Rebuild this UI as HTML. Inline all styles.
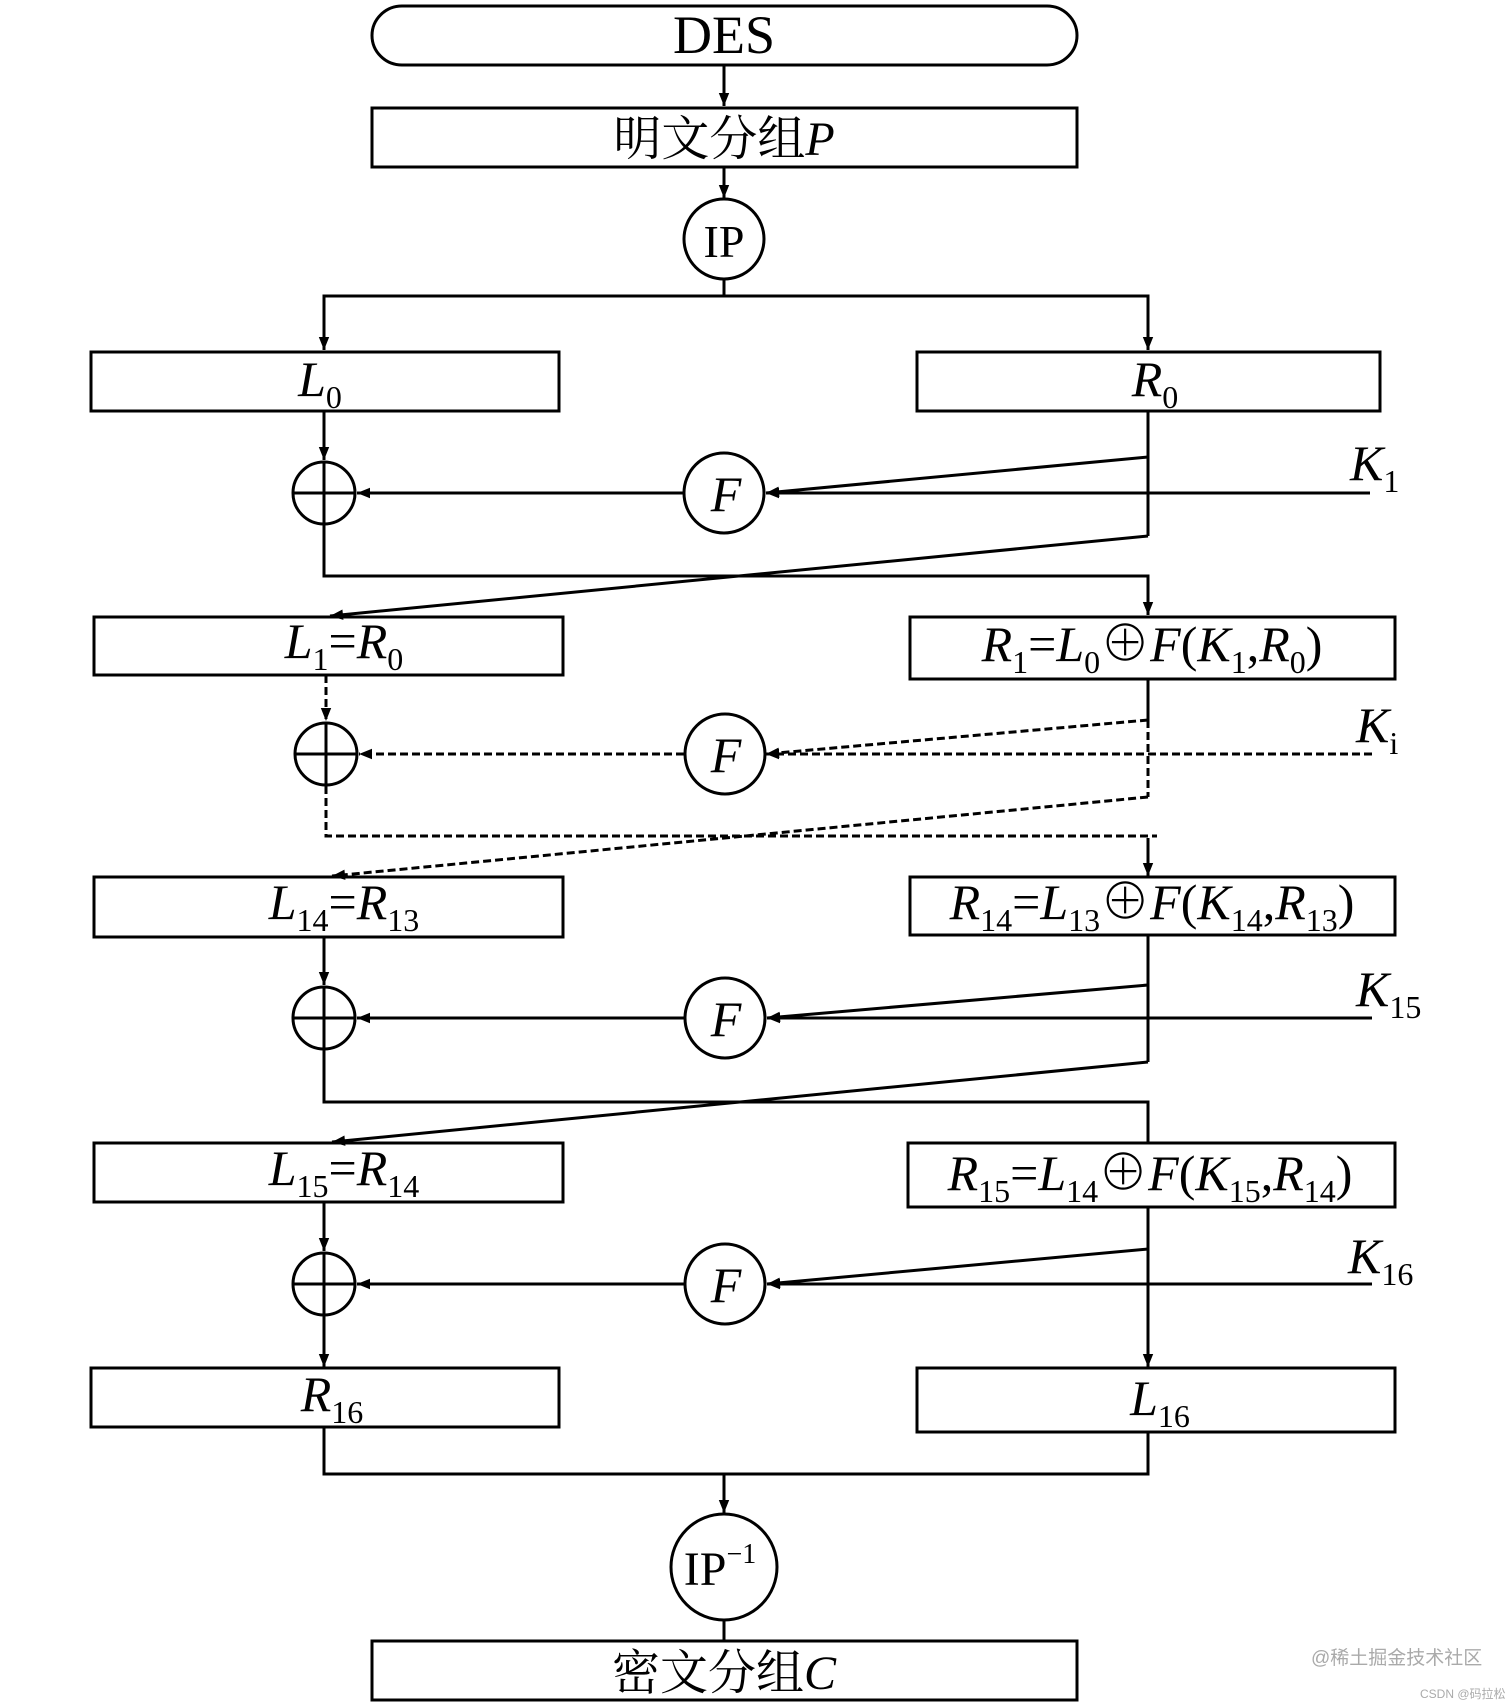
<!DOCTYPE html>
<html><head><meta charset="utf-8"><style>
html,body{margin:0;padding:0;background:#fff;}
svg{display:block;}
text{font-family:"Liberation Serif","Noto Serif CJK SC",serif;fill:#000;}
.it{font-style:italic;}
</style></head><body>
<svg width="1512" height="1706" viewBox="0 0 1512 1706" xmlns="http://www.w3.org/2000/svg">
<defs>
<marker id="b" viewBox="0 0 10 10" refX="10" refY="5" markerWidth="22" markerHeight="13" markerUnits="userSpaceOnUse" orient="auto"><path d="M0,1 L10,5 L0,9 Z" fill="#000"/></marker>
</defs>
<g stroke="#000" stroke-width="3" fill="none">
<rect x="372" y="6" width="705" height="59" rx="30" ry="30"/>
<line x1="724" y1="65" x2="724" y2="106" marker-end="url(#b)"/>
<rect x="372" y="108" width="705" height="59"/>
<line x1="724" y1="167" x2="724" y2="198" marker-end="url(#b)"/>
<circle cx="724" cy="239" r="40"/>
<polyline points="724,279 724,296"/>
<polyline points="324,350 324,296 1148,296 1148,350" />
<line x1="324" y1="300" x2="324" y2="350" marker-end="url(#b)"/>
<line x1="1148" y1="300" x2="1148" y2="350" marker-end="url(#b)"/>
<rect x="91" y="352" width="468" height="59"/>
<rect x="917" y="352" width="463" height="59"/>
<line x1="324" y1="411" x2="324" y2="460" marker-end="url(#b)"/>
<circle cx="324" cy="493" r="31"/>
<line x1="293" y1="493" x2="355" y2="493"/><line x1="324" y1="462" x2="324" y2="524"/>
<line x1="684" y1="493" x2="357" y2="493" marker-end="url(#b)"/>
<circle cx="724" cy="493" r="40"/>
<line x1="1370" y1="493" x2="766" y2="493" marker-end="url(#b)"/>
<polyline points="1148,411 1148,536"/>
<line x1="1148" y1="457" x2="766" y2="493" marker-end="url(#b)"/>
<line x1="1148" y1="536" x2="330" y2="616" marker-end="url(#b)"/>
<polyline points="324,524 324,576 1148,576 1148,614"/>
<line x1="1148" y1="580" x2="1148" y2="615" marker-end="url(#b)"/>
<rect x="94" y="617" width="469" height="58"/>
<rect x="910" y="617" width="485" height="62"/>
<g stroke-dasharray="8,4">
<line x1="326" y1="675" x2="326" y2="721" marker-end="url(#b)"/>
<line x1="684" y1="754" x2="359" y2="754" marker-end="url(#b)"/>
<line x1="1372" y1="754" x2="766" y2="754" marker-end="url(#b)"/>
<line x1="1148" y1="720" x2="766" y2="754" marker-end="url(#b)"/>
<polyline points="1148,720 1148,797"/>
<line x1="1148" y1="797" x2="332" y2="876" marker-end="url(#b)"/>
<polyline points="326,786 326,836 1157,836"/>
</g>
<line x1="1148" y1="679" x2="1148" y2="720"/>
<circle cx="326" cy="754" r="31"/>
<line x1="295" y1="754" x2="357" y2="754"/><line x1="326" y1="723" x2="326" y2="785"/>
<circle cx="725" cy="754" r="40"/>
<line x1="1148" y1="838" x2="1148" y2="876" marker-end="url(#b)"/>
<rect x="94" y="877" width="469" height="60"/>
<rect x="910" y="877" width="485" height="58"/>
<line x1="324" y1="937" x2="324" y2="985" marker-end="url(#b)"/>
<circle cx="324" cy="1018" r="31"/>
<line x1="293" y1="1018" x2="355" y2="1018"/><line x1="324" y1="987" x2="324" y2="1049"/>
<line x1="684" y1="1018" x2="357" y2="1018" marker-end="url(#b)"/>
<circle cx="725" cy="1018" r="40"/>
<line x1="1372" y1="1018" x2="767" y2="1018" marker-end="url(#b)"/>
<polyline points="1148,935 1148,1062"/>
<line x1="1148" y1="985" x2="767" y2="1018" marker-end="url(#b)"/>
<line x1="1148" y1="1062" x2="332" y2="1142" marker-end="url(#b)"/>
<polyline points="324,1049 324,1102 1148,1102 1148,1142"/>
<rect x="94" y="1143" width="469" height="59"/>
<rect x="908" y="1143" width="487" height="64"/>
<line x1="324" y1="1202" x2="324" y2="1251" marker-end="url(#b)"/>
<circle cx="324" cy="1284" r="31"/>
<line x1="293" y1="1284" x2="355" y2="1284"/><line x1="324" y1="1253" x2="324" y2="1315"/>
<line x1="684" y1="1284" x2="357" y2="1284" marker-end="url(#b)"/>
<circle cx="725" cy="1284" r="40"/>
<line x1="1372" y1="1284" x2="767" y2="1284" marker-end="url(#b)"/>
<line x1="1148" y1="1207" x2="1148" y2="1367" marker-end="url(#b)"/>
<line x1="1148" y1="1249" x2="767" y2="1284" marker-end="url(#b)"/>
<line x1="324" y1="1315" x2="324" y2="1367" marker-end="url(#b)"/>
<rect x="91" y="1368" width="468" height="59"/>
<rect x="917" y="1368" width="478" height="64"/>
<polyline points="324,1427 324,1474 1148,1474 1148,1432"/>
<line x1="724" y1="1474" x2="724" y2="1513" marker-end="url(#b)"/>
<circle cx="724" cy="1567" r="53"/>
<line x1="724" y1="1620" x2="724" y2="1641"/>
<rect x="372" y="1641" width="705" height="59"/>
</g>
<g font-size="50" text-anchor="middle">
<text x="724" y="53" font-size="54">DES</text>
<text x="724" y="155" font-size="48">明文分组<tspan class="it">P</tspan></text>
<text x="724" y="257" font-size="46">IP</text>
<text x="320" y="396" class="it">L<tspan font-style="normal" font-size="32" dy="12">0</tspan></text>
<text x="1155" y="396" class="it">R<tspan font-style="normal" font-size="32" dy="12">0</tspan></text>
<text x="726" y="511" class="it">F</text>
<text x="726" y="772" class="it">F</text>
<text x="726" y="1036" class="it">F</text>
<text x="726" y="1302" class="it">F</text>
<text x="344" y="658" class="it">L<tspan font-style="normal" font-size="32" dy="12">1</tspan><tspan font-style="normal" dy="-12">=</tspan>R<tspan font-style="normal" font-size="32" dy="12">0</tspan></text>
<text x="1152" y="661" class="it">R<tspan font-style="normal" font-size="32" dy="12">1</tspan><tspan font-style="normal" dy="-12">=</tspan>L<tspan font-style="normal" font-size="32" dy="12">0</tspan><tspan font-style="normal" dy="-12">⊕</tspan>F<tspan font-style="normal">(</tspan>K<tspan font-style="normal" font-size="32" dy="12">1</tspan><tspan font-style="normal" dy="-12">,</tspan>R<tspan font-style="normal" font-size="32" dy="12">0</tspan><tspan font-style="normal" dy="-12">)</tspan></text>
<text x="344" y="919" class="it">L<tspan font-style="normal" font-size="32" dy="12">14</tspan><tspan font-style="normal" dy="-12">=</tspan>R<tspan font-style="normal" font-size="32" dy="12">13</tspan></text>
<text x="1152" y="919" class="it">R<tspan font-style="normal" font-size="32" dy="12">14</tspan><tspan font-style="normal" dy="-12">=</tspan>L<tspan font-style="normal" font-size="32" dy="12">13</tspan><tspan font-style="normal" dy="-12">⊕</tspan>F<tspan font-style="normal">(</tspan>K<tspan font-style="normal" font-size="32" dy="12">14</tspan><tspan font-style="normal" dy="-12">,</tspan>R<tspan font-style="normal" font-size="32" dy="12">13</tspan><tspan font-style="normal" dy="-12">)</tspan></text>
<text x="344" y="1185" class="it">L<tspan font-style="normal" font-size="32" dy="12">15</tspan><tspan font-style="normal" dy="-12">=</tspan>R<tspan font-style="normal" font-size="32" dy="12">14</tspan></text>
<text x="1150" y="1190" class="it">R<tspan font-style="normal" font-size="32" dy="12">15</tspan><tspan font-style="normal" dy="-12">=</tspan>L<tspan font-style="normal" font-size="32" dy="12">14</tspan><tspan font-style="normal" dy="-12">⊕</tspan>F<tspan font-style="normal">(</tspan>K<tspan font-style="normal" font-size="32" dy="12">15</tspan><tspan font-style="normal" dy="-12">,</tspan>R<tspan font-style="normal" font-size="32" dy="12">14</tspan><tspan font-style="normal" dy="-12">)</tspan></text>
<text x="332" y="1411" class="it">R<tspan font-style="normal" font-size="32" dy="12">16</tspan></text>
<text x="1160" y="1415" class="it">L<tspan font-style="normal" font-size="32" dy="12">16</tspan></text>
<text x="720" y="1585" font-size="48">IP<tspan font-size="28" dy="-22">−1</tspan></text>
<text x="724" y="1689" font-size="48">密文分组<tspan class="it">C</tspan></text>
</g>
<g font-size="50" class="it">
<text x="1350" y="480">K<tspan font-style="normal" font-size="32" dy="12">1</tspan></text>
<text x="1356" y="742">K<tspan font-style="normal" font-size="32" dy="12">i</tspan></text>
<text x="1356" y="1006">K<tspan font-style="normal" font-size="32" dy="12">15</tspan></text>
<text x="1348" y="1273">K<tspan font-style="normal" font-size="32" dy="12">16</tspan></text>
</g>
<text x="1311" y="1664" font-size="19" style="fill:#aaa;font-family:'Liberation Sans','Noto Sans CJK SC',sans-serif">@稀土掘金技术社区</text>
<text x="1420" y="1698" font-size="12" style="fill:#aaa;font-family:'Liberation Sans','Noto Sans CJK SC',sans-serif">CSDN @码拉松</text>
</svg>
</body></html>
